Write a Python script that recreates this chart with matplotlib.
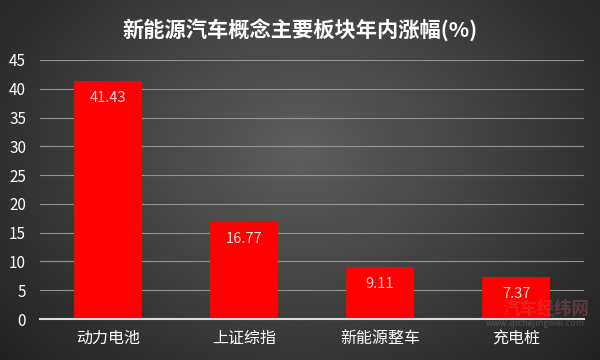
import numpy as np
import matplotlib
matplotlib.use("Agg")
import matplotlib.pyplot as plt

plt.rcParams['font.family'] = ['Noto Sans CJK SC', 'DejaVu Sans']

categories = ["动力电池", "上证综指", "新能源整车", "充电桩"]
values = [41.43, 16.77, 9.11, 7.37]
value_labels = ["41.43", "16.77", "9.11", "7.37"]
yticks = [0, 5, 10, 15, 20, 25, 30, 35, 40, 45]
title = "新能源汽车概念主要板块年内涨幅(%)"

fig = plt.figure(figsize=(6, 3.6), dpi=100)

# radial gradient background
bg = fig.add_axes([0, 0, 1, 1], zorder=-10)
yy, xx = np.mgrid[0:360, 0:600]
r = np.sqrt(((xx - 300) / 330.0) ** 2 + ((yy - 150) / 260.0) ** 2)
g = np.clip(0.37 - 0.2 * r, 0.12, 0.37)
img = np.dstack([g, g, g])
bg.imshow(img, aspect='auto', extent=[0, 1, 0, 1])
bg.axis('off')

ax = fig.add_axes([40 / 600, 41 / 360, 544 / 600, 259 / 360])
ax.patch.set_alpha(0)
x = np.arange(len(categories))
ax.bar(x, values, width=0.5, color='#ff0000', zorder=3)
ax.set_xlim(-0.5, len(categories) - 0.5)
ax.set_ylim(0, 45)
ax.set_yticks(yticks)
ax.set_xticks(x)
ax.set_xticklabels(categories, fontsize=11.5, color='white')
ax.tick_params(axis='y', colors='white', labelsize=11, length=0, pad=10)
ax.tick_params(axis='x', length=0, pad=8)
ax.yaxis.grid(True, color='#939393', linewidth=0.8, zorder=0)
for s in ['top', 'right', 'left']:
    ax.spines[s].set_visible(False)
ax.spines['bottom'].set_color('#dddddd')
ax.spines['bottom'].set_linewidth(1.5)
ax.spines['bottom'].set_zorder(4)

for xi, v, lab in zip(x, values, value_labels):
    ax.annotate(lab, (xi, v), xytext=(0, -17), textcoords='offset pixels',
                ha='center', va='center', color='#ffe0e0', fontsize=10.5, zorder=5)

fig.text(0.5, 1 - 30 / 360, title, ha='center', va='center', color='white',
         fontsize=15.3, fontweight='bold')

# watermark
fig.text(546 / 600, 1 - 309 / 360, "汽车经纬网", ha='center', va='center', color='#c06060',
         fontsize=12.5, fontweight='bold', alpha=0.35)
fig.text(535 / 600, 1 - 324 / 360, "www.qichejingwei.com", ha='center', va='center', color='#aaaaaa',
         fontsize=6.5, alpha=0.3)

fig.savefig("out.png", dpi=100)
